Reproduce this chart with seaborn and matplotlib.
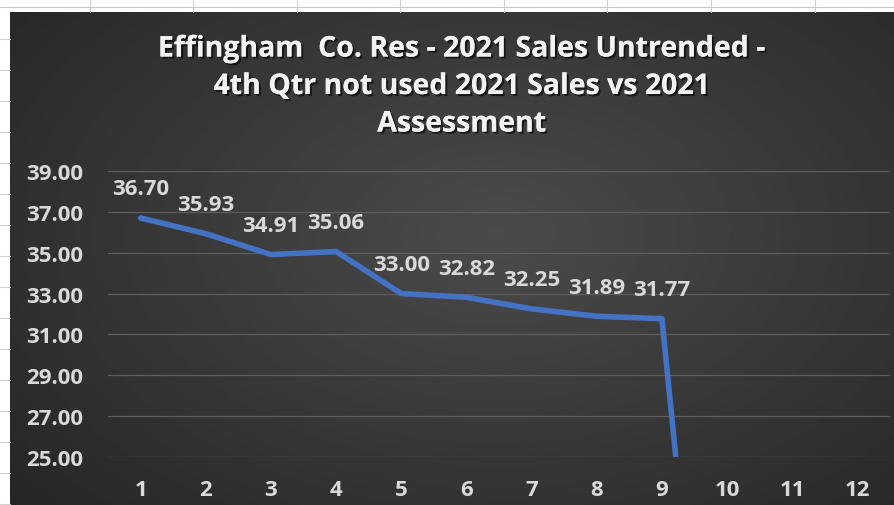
import numpy as np
import pandas as pd
import seaborn as sns
import matplotlib.pyplot as plt
import matplotlib.patheffects as pe

# data
periods = [1, 2, 3, 4, 5, 6, 7, 8, 9, 10, 11, 12]
ratios = [36.70, 35.93, 34.91, 35.06, 33.00, 32.82, 32.25, 31.89, 31.77, 0.0, 0.0, 0.0]
y_ticks = [25, 27, 29, 31, 33, 35, 37, 39]
title_lines = ["Effingham  Co. Res - 2021 Sales Untrended -",
               "4th Qtr not used 2021 Sales vs 2021",
               "Assessment"]

sns.set_theme(style="dark")
plt.rcParams['font.family'] = ['Open Sans', 'DejaVu Sans']

W, H = 895, 506
fig = plt.figure(figsize=(W / 100, H / 100), dpi=100)
fig.patch.set_facecolor('white')

# spreadsheet grid peeking out at top and left
for gx in [90, 193, 297, 400, 504, 607, 711, 815]:
    fig.add_artist(plt.Line2D([gx / W, gx / W], [1 - 13 / H, 1], color='#d0d0d0', lw=0.8))
fig.add_artist(plt.Line2D([0, 1], [1 - 8 / H, 1 - 8 / H], color='#c8c8c8', lw=0.8))
for gy in range(40, H, 31):
    fig.add_artist(plt.Line2D([0, 10 / W], [1 - gy / H, 1 - gy / H], color='#d0d0d0', lw=0.8))

# dark radial gradient chart area
bg = fig.add_axes([10 / W, 0, 1 - 10 / W, 1 - 13 / H])
yy, xx = np.mgrid[0:1:300j, 0:1:500j]
r = np.sqrt(((xx - 0.55) / 0.8) ** 2 + ((yy - 0.55) / 0.9) ** 2)
bg.imshow(0.295 - 0.16 * np.clip(r, 0, 1), cmap='gray', vmin=0, vmax=1,
          aspect='auto', extent=[0, 1, 0, 1], origin='lower')
bg.axis('off')

ax = fig.add_axes([108 / W, 1 - 458 / H, (890 - 108) / W, (458 - 172) / H])
ax.set_facecolor('none')
df = pd.DataFrame({'period': periods, 'ratio': ratios})
sns.lineplot(data=df, x='period', y='ratio', ax=ax, color='#4472C4', linewidth=4,
             solid_capstyle='round', solid_joinstyle='round')

for p, v in zip(periods, ratios):
    if v >= y_ticks[0]:
        ax.annotate(f"{v:.2f}", (p, v), xytext=(0, 21), textcoords='offset points',
                    ha='center', va='center', color='#d9d9d9', fontsize=16, fontweight='bold')

ax.set_xlim(0.5, 12.5)
ax.set_ylim(25, 39)
ax.set_xticks(periods)
ax.set_yticks(y_ticks)
ax.set_yticklabels([f"{t:.2f}" for t in y_ticks])
ax.grid(axis='y', color='#5e5e5e', linewidth=0.9)
ax.grid(axis='x', visible=False)
ax.tick_params(axis='y', colors='#d9d9d9', labelsize=16, pad=18, length=0)
ax.tick_params(axis='x', colors='#d9d9d9', labelsize=16, pad=16, length=0)
for lab in ax.get_xticklabels() + ax.get_yticklabels():
    lab.set_fontweight('bold')
ax.set_xlabel('')
ax.set_ylabel('')
for s in ax.spines.values():
    s.set_visible(False)

shadow = [pe.withSimplePatchShadow(offset=(1.5, -1.5), shadow_rgbFace='black', alpha=0.6), pe.Normal()]
for i, line in enumerate(title_lines):
    fig.text(462 / W, 1 - (50 + 37.5 * i) / H, line, ha='center', va='center', color='#f2f2f2',
             fontsize=20.5, fontweight='bold', path_effects=shadow)

fig.savefig('out.png', dpi=100)
